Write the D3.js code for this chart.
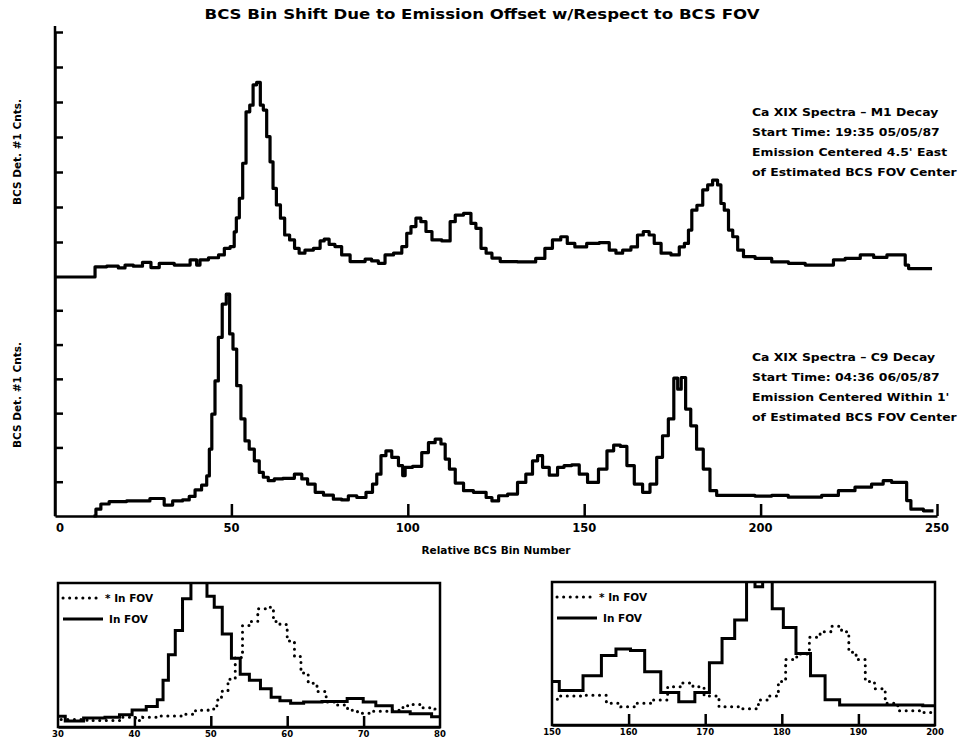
<!DOCTYPE html>
<html>
<head>
<meta charset="utf-8">
<script src="https://cdn.jsdelivr.net/npm/d3@7"></script>
<style>
  html, body { margin: 0; padding: 0; background: #fff; }
  svg { display: block; }
  text { font-family: "DejaVu Sans", "Liberation Sans", sans-serif; font-weight: bold; fill: #000; }
</style>
</head>
<body>
<svg id="chart" width="964" height="741"></svg>
<script>
// Ca XIX spectrum, M1 decay (emission 4.5' east of FOV center): [bin, counts]
const m1Spectrum = [
  [0,0],[10.4,0],[12.3,0.29],[17,0.31],[18.9,0.26],[20.8,0.34],[23.6,0.31],[26,0.42],[28.4,0.27],
  [30.7,0.39],[36.9,0.34],[39.7,0.49],[40.6,0.34],[41.6,0.49],[45.4,0.55],[47.3,0.63],[48.7,0.82],
  [50.6,0.87],[51,1.29],[51.8,1.69],[52.7,2.25],[53.7,3.25],[54.6,4.72],[55.8,4.91],[56.5,5.49],
  [57.8,5.56],[58.6,4.91],[59.5,4.77],[60.5,4.01],[61.4,3.29],[62.2,2.53],[63.3,2.06],[64.5,1.68],
  [65.7,1.2],[67.3,1.06],[68.5,0.82],[69.9,0.68],[71.8,0.77],[74.7,0.82],[75.6,1.03],[77,1.08],
  [78.4,0.93],[80.3,0.87],[82.2,0.63],[85.1,0.44],[87,0.44],[88.8,0.51],[90.7,0.46],[92.6,0.39],
  [94.5,0.63],[97.4,0.68],[99.2,0.87],[100.2,1.25],[101.6,1.44],[103,1.68],[104.4,1.58],[105.9,1.3],
  [107.8,1.06],[111.5,1.03],[112.5,1.58],[114.4,1.77],[117.2,1.82],[118.6,1.53],[120,1.39],
  [121.5,0.82],[122.9,0.68],[124.8,0.54],[127.6,0.44],[134.6,0.43],[137.9,0.53],[139.8,0.82],
  [142.2,1.06],[144.5,1.15],[145.9,0.96],[148.8,0.86],[152.6,0.96],[155.9,0.98],[158.3,0.77],
  [159.7,0.68],[162.1,0.77],[164.4,0.86],[165.8,1.2],[167.7,1.3],[169.1,1.2],[170.6,0.96],[173,0.68],
  [176.2,0.63],[177.7,0.86],[179.1,0.96],[180,1.34],[181,1.91],[182.9,2.05],[184.3,2.49],[185.7,2.63],
  [187.1,2.77],[188.5,2.63],[189,2.1],[190.4,1.91],[191.4,1.34],[192.8,1.15],[194.2,0.77],[196.1,0.58],
  [200.8,0.53],[205.5,0.43],[210.3,0.39],[215,0.34],[219.7,0.34],[221.6,0.49],[226.3,0.53],
  [230.2,0.63],[233.9,0.56],[237.7,0.63],[240.5,0.63],[241.5,0.34],[242.4,0.24],[248.6,0.24]
];

// Ca XIX spectrum, C9 decay (emission within 1' of FOV center): [bin, counts]
const c9Spectrum = [
  [10.9,0],[12.3,0.2],[13.7,0.35],[17,0.42],[23.6,0.44],[30.2,0.51],[31.7,0.32],[35,0.44],[37.3,0.47],
  [38.8,0.57],[40.6,0.76],[42.5,0.9],[43.5,1.17],[44,1.95],[44.9,2.97],[45.8,3.94],[46.8,5.21],
  [48,6.18],[49.1,6.47],[49.9,5.31],[51,4.87],[52,3.8],[53.4,2.83],[54.3,2.19],[55.8,1.95],[57.2,1.61],
  [58.6,1.27],[59.5,1.13],[61.4,1.03],[62.9,1.08],[66.2,1.1],[69.5,1.22],[70.4,1.08],[72.8,0.93],
  [74.7,0.69],[77.5,0.61],[80.3,0.49],[82.2,0.47],[84.1,0.59],[87,0.54],[89.3,0.69],[90.7,0.93],
  [91.7,1.22],[93.1,1.76],[94.5,1.9],[96.4,1.71],[98.3,1.47],[98.8,1.18],[99.7,1.42],[103,1.45],
  [104.9,1.85],[106.8,2.14],[108.7,2.24],[110.1,2.1],[111.1,1.66],[112.5,1.37],[114.4,0.96],
  [117.2,0.74],[120,0.69],[121.5,0.69],[122.9,0.54],[124.8,0.44],[126.7,0.59],[129.9,0.64],
  [132.3,0.98],[134.6,1.22],[136.1,1.61],[137.5,1.76],[138.9,1.42],[141.3,1.19],[143.6,1.42],
  [145,1.47],[147.9,1.49],[149.3,1.22],[152.6,0.98],[155.5,1.37],[157.4,1.9],[159.3,2.07],
  [161.2,2.03],[163,1.47],[165.4,0.93],[167.7,0.69],[169.6,0.93],[171.5,1.71],[172.9,2.34],
  [174.8,2.83],[176,4.02],[177,3.7],[178,4.04],[179.5,3.12],[180.9,2.63],[182.8,1.95],[184.7,1.37],
  [186.6,0.74],[188.5,0.6],[196,0.6],[200.8,0.58],[205.5,0.6],[210.2,0.55],[214.9,0.55],[219.7,0.6],
  [224.4,0.74],[229.1,0.84],[233.8,0.93],[235.7,1.03],[238.6,0.98],[240.9,0.98],[241.9,0.45],
  [243.3,0.2],[249,0.15]
];

const binTicks = [0, 50, 100, 150, 200, 250];
const upperCountTicks = [1, 2, 3, 4, 5, 6, 7];
const lowerCountTicks = [1, 2, 3, 4, 5, 6];
const leftInsetTicks = [30, 40, 50, 60, 70, 80];
const rightInsetTicks = [150, 160, 170, 180, 190, 200];

const titleText = "BCS Bin Shift Due to Emission Offset w/Respect to BCS FOV";
const xTitle = "Relative BCS Bin Number";
const yTitle = "BCS Det. #1 Cnts.";
const m1Notes = ["Ca XIX Spectra \u2013 M1 Decay", "Start Time: 19:35 05/05/87",
                 "Emission Centered 4.5' East", "of Estimated BCS FOV Center"];
const c9Notes = ["Ca XIX Spectra \u2013 C9 Decay", "Start Time: 04:36 06/05/87",
                 "Emission Centered Within 1'", "of Estimated BCS FOV Center"];
const legendLabels = ["* In FOV", "In FOV"];

const svg = d3.select("#chart");

// ---- main spectra ----
const x = d3.scaleLinear().domain([0, 250]).range([55, 937]);
const yUpper = d3.scaleLinear().domain([0, 7]).range([277, 32]);
const yLower = d3.scaleLinear().domain([0, 7]).range([516, 276]);

svg.append("text").attr("x", 482).attr("y", 19).attr("text-anchor", "middle")
  .attr("font-size", 14).attr("textLength", 555).attr("lengthAdjust", "spacingAndGlyphs")
  .text(titleText);

const stepLine = (sx, sy) => d3.line().x(d => sx(d[0])).y(d => sy(d[1])).curve(d3.curveStep);

svg.append("path").datum(m1Spectrum).attr("d", stepLine(x, yUpper))
  .attr("fill", "none").attr("stroke", "#000").attr("stroke-width", 3.2).attr("stroke-linejoin", "round");
svg.append("path").datum(c9Spectrum).attr("d", stepLine(x, yLower))
  .attr("fill", "none").attr("stroke", "#000").attr("stroke-width", 3.2).attr("stroke-linejoin", "round");

// y axes (ticks point into the plot)
function styleAxis(g) {
  g.selectAll("path, line").attr("stroke", "#000").attr("stroke-width", 2.5);
  g.selectAll("text").remove();
}
svg.append("line").attr("x1", x(0)).attr("x2", x(0)).attr("y1", 26).attr("y2", yLower(0))
  .attr("stroke", "#000").attr("stroke-width", 2.5);
svg.append("g").attr("transform", `translate(${x(0)},0)`)
  .call(d3.axisRight(yUpper).tickValues(upperCountTicks).tickSize(8).tickSizeOuter(0))
  .call(styleAxis);
svg.append("g").attr("transform", `translate(${x(0)},0)`)
  .call(d3.axisRight(yLower).tickValues(lowerCountTicks).tickSize(8).tickSizeOuter(0))
  .call(styleAxis);
// x axis with upward ticks, labels beneath
svg.append("g").attr("transform", `translate(0,${yLower(0)})`)
  .call(d3.axisTop(x).tickValues(binTicks.slice(1)).tickSize(12).tickSizeOuter(0))
  .call(styleAxis);
svg.append("g").selectAll("text").data(binTicks).join("text")
  .attr("x", d => x(d) + (d === 0 ? 5 : 0)).attr("y", yLower(0) + 16).attr("text-anchor", "middle")
  .attr("font-size", 11.5).text(d => d);
svg.append("text").attr("x", 496).attr("y", 554).attr("text-anchor", "middle")
  .attr("font-size", 10.5).text(xTitle);

[152, 395].forEach(cy => {
  svg.append("text").attr("transform", `translate(21,${cy}) rotate(-90)`)
    .attr("text-anchor", "middle").attr("font-size", 10.5).text(yTitle);
});

function notes(lines, y0, dy) {
  svg.append("g").attr("transform", "translate(752,0) scale(1.13,1)")
    .selectAll("text").data(lines).join("text")
    .attr("x", 0).attr("y", (d, i) => y0 + i * dy).attr("font-size", 11).text(d => d);
}
notes(m1Notes, 116, 20);
notes(c9Notes, 361, 20);

// ---- detail insets ----
function inset(cfg) {
  const ix = d3.scaleLinear().domain(cfg.domain).range([cfg.x0, cfg.x1]);
  const id = "clip" + cfg.domain[0];
  svg.append("clipPath").attr("id", id).append("rect")
    .attr("x", cfg.x0).attr("y", cfg.y0).attr("width", cfg.x1 - cfg.x0).attr("height", cfg.y1 - cfg.y0);
  const g = svg.append("g");
  const plot = g.append("g").attr("clip-path", `url(#${id})`);
  plot.append("path").datum(m1Spectrum).attr("d", stepLine(ix, cfg.yDotted))
    .attr("fill", "none").attr("stroke", "#000").attr("stroke-width", 3)
    .attr("stroke-linecap", "round").attr("stroke-dasharray", "0.1,6.5");
  plot.append("path").datum(c9Spectrum).attr("d", stepLine(ix, cfg.ySolid))
    .attr("fill", "none").attr("stroke", "#000").attr("stroke-width", 3);
  g.append("rect").attr("x", cfg.x0).attr("y", cfg.y0)
    .attr("width", cfg.x1 - cfg.x0).attr("height", cfg.y1 - cfg.y0)
    .attr("fill", "none").attr("stroke", "#000").attr("stroke-width", 2.5);
  g.append("g").attr("transform", `translate(0,${cfg.y1})`)
    .call(d3.axisTop(ix).tickValues(cfg.ticks.slice(1, -1)).tickSize(11).tickSizeOuter(0))
    .call(styleAxis);
  g.append("g").selectAll("text").data(cfg.ticks).join("text")
    .attr("x", d => ix(d)).attr("y", cfg.y1 + 10).attr("text-anchor", "middle")
    .attr("font-size", 8.5).text(d => d);
  // legend
  const lx = cfg.x0 + 5;
  g.append("line").attr("x1", lx).attr("x2", lx + 38).attr("y1", cfg.y0 + 15).attr("y2", cfg.y0 + 15)
    .attr("stroke", "#000").attr("stroke-width", 3).attr("stroke-linecap", "round")
    .attr("stroke-dasharray", "0.1,6.5");
  g.append("text").attr("x", lx + 42).attr("y", cfg.y0 + 19).attr("font-size", 10.5).text(legendLabels[0]);
  g.append("line").attr("x1", lx).attr("x2", lx + 40).attr("y1", cfg.y0 + 36).attr("y2", cfg.y0 + 36)
    .attr("stroke", "#000").attr("stroke-width", 3);
  g.append("text").attr("x", lx + 46).attr("y", cfg.y0 + 40).attr("font-size", 10.5).text(legendLabels[1]);
}

inset({
  domain: [30, 80], x0: 58, x1: 440, y0: 583, y1: 727, ticks: leftInsetTicks,
  ySolid: d3.scaleLinear().domain([0, 1]).range([729, 704]),
  yDotted: d3.scaleLinear().domain([0, 1]).range([728, 706.3])
});
inset({
  domain: [150, 200], x0: 552, x1: 935, y0: 582, y1: 725, ticks: rightInsetTicks,
  ySolid: d3.scaleLinear().domain([0, 1]).range([728, 689.8]),
  yDotted: d3.scaleLinear().domain([0, 1]).range([733, 694.5])
});
</script>
</body>
</html>
